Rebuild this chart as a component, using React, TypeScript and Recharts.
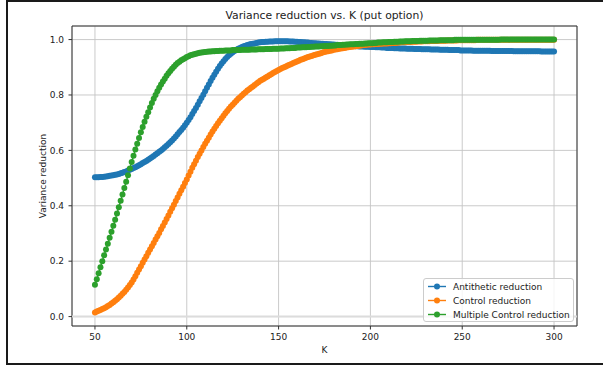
import React from 'react';
import {
  LineChart,
  Line,
  XAxis,
  YAxis,
  CartesianGrid,
  Legend,
  ReferenceArea,
  ReferenceLine,
} from 'recharts';

// strike grid, K = 50 .. 300 in steps of 1
const K_VALUES = Array.from({ length: 251 }, (_, i) => 50 + i);

const ANTITHETIC = [
  0.503, 0.503, 0.503, 0.504, 0.504, 0.505, 0.506, 0.507, 0.508, 0.509,
  0.510, 0.512, 0.513, 0.515, 0.517, 0.519, 0.522, 0.524, 0.527, 0.530,
  0.533, 0.536, 0.539, 0.543, 0.546, 0.550, 0.554, 0.558, 0.562, 0.566,
  0.571, 0.575, 0.580, 0.585, 0.590, 0.595, 0.600, 0.605, 0.611, 0.617,
  0.623, 0.629, 0.636, 0.643, 0.650, 0.658, 0.666, 0.674, 0.682, 0.691,
  0.700, 0.710, 0.720, 0.731, 0.742, 0.753, 0.765, 0.777, 0.789, 0.801,
  0.813, 0.826, 0.838, 0.850, 0.862, 0.873, 0.884, 0.895, 0.905, 0.914,
  0.922, 0.930, 0.937, 0.943, 0.949, 0.954, 0.959, 0.963, 0.967, 0.970,
  0.973, 0.976, 0.978, 0.980, 0.982, 0.984, 0.985, 0.986, 0.988, 0.989,
  0.990, 0.991, 0.991, 0.992, 0.992, 0.993, 0.993, 0.993, 0.994, 0.994,
  0.994, 0.994, 0.994, 0.994, 0.994, 0.994, 0.993, 0.993, 0.993, 0.992,
  0.992, 0.991, 0.991, 0.990, 0.990, 0.989, 0.989, 0.988, 0.988, 0.987,
  0.987, 0.986, 0.986, 0.985, 0.985, 0.984, 0.984, 0.983, 0.983, 0.982,
  0.982, 0.981, 0.981, 0.980, 0.980, 0.979, 0.979, 0.978, 0.978, 0.977,
  0.977, 0.977, 0.976, 0.976, 0.975, 0.975, 0.975, 0.974, 0.974, 0.974,
  0.973, 0.973, 0.973, 0.972, 0.972, 0.972, 0.971, 0.971, 0.971, 0.970,
  0.970, 0.970, 0.970, 0.969, 0.969, 0.969, 0.968, 0.968, 0.968, 0.968,
  0.967, 0.967, 0.967, 0.967, 0.966, 0.966, 0.966, 0.966, 0.965, 0.965,
  0.965, 0.965, 0.965, 0.964, 0.964, 0.964, 0.964, 0.964, 0.963, 0.963,
  0.963, 0.963, 0.963, 0.962, 0.962, 0.962, 0.962, 0.962, 0.962, 0.961,
  0.961, 0.961, 0.961, 0.961, 0.961, 0.961, 0.960, 0.960, 0.960, 0.960,
  0.960, 0.960, 0.960, 0.960, 0.960, 0.960, 0.959, 0.959, 0.959, 0.959,
  0.959, 0.959, 0.959, 0.959, 0.959, 0.959, 0.959, 0.959, 0.958, 0.958,
  0.958, 0.958, 0.958, 0.958, 0.958, 0.958, 0.958, 0.958, 0.958, 0.958,
  0.958, 0.958, 0.958, 0.957, 0.957, 0.957, 0.957, 0.957, 0.957, 0.957,
  0.957,
];

const CONTROL = [
  0.015, 0.018, 0.021, 0.024, 0.027, 0.030, 0.034, 0.038, 0.042, 0.047,
  0.052, 0.057, 0.063, 0.069, 0.075, 0.082, 0.089, 0.097, 0.105, 0.114,
  0.123, 0.134, 0.146, 0.158, 0.170, 0.182, 0.194, 0.206, 0.218, 0.230,
  0.242, 0.254, 0.266, 0.278, 0.290, 0.302, 0.315, 0.327, 0.340, 0.352,
  0.365, 0.378, 0.391, 0.404, 0.417, 0.430, 0.443, 0.456, 0.469, 0.482,
  0.495, 0.509, 0.523, 0.537, 0.550, 0.563, 0.576, 0.588, 0.600, 0.612,
  0.624, 0.635, 0.646, 0.657, 0.668, 0.678, 0.688, 0.698, 0.707, 0.716,
  0.725, 0.734, 0.742, 0.750, 0.758, 0.765, 0.772, 0.779, 0.786, 0.792,
  0.798, 0.804, 0.810, 0.816, 0.821, 0.826, 0.831, 0.836, 0.841, 0.846,
  0.851, 0.855, 0.859, 0.863, 0.867, 0.871, 0.875, 0.879, 0.883, 0.887,
  0.890, 0.894, 0.897, 0.900, 0.903, 0.906, 0.909, 0.912, 0.915, 0.918,
  0.921, 0.924, 0.927, 0.929, 0.932, 0.934, 0.937, 0.939, 0.941, 0.943,
  0.945, 0.947, 0.949, 0.951, 0.953, 0.955, 0.957, 0.958, 0.960, 0.961,
  0.963, 0.964, 0.965, 0.967, 0.968, 0.969, 0.970, 0.971, 0.972, 0.973,
  0.974, 0.975, 0.976, 0.977, 0.978, 0.979, 0.980, 0.980, 0.981, 0.982,
  0.982, 0.983, 0.983, 0.984, 0.984, 0.985, 0.985, 0.986, 0.986, 0.986,
  0.987, 0.987, 0.988, 0.988, 0.988, 0.989, 0.989, 0.990, 0.990, 0.990,
  0.991, 0.991, 0.991, 0.992, 0.992, 0.992, 0.993, 0.993, 0.993, 0.994,
  0.994, 0.994, 0.994, 0.995, 0.995, 0.995, 0.995, 0.996, 0.996, 0.996,
  0.996, 0.996, 0.997, 0.997, 0.997, 0.997, 0.997, 0.997, 0.998, 0.998,
  0.998, 0.998, 0.998, 0.998, 0.998, 0.998, 0.998, 0.998, 0.999, 0.999,
  0.999, 0.999, 0.999, 0.999, 0.999, 0.999, 0.999, 0.999, 0.999, 0.999,
  0.999, 0.999, 0.999, 0.999, 0.999, 0.999, 0.999, 0.999, 0.999, 0.999,
  0.999, 0.999, 0.999, 0.999, 0.999, 0.999, 0.999, 0.999, 0.999, 0.999,
  0.999, 0.999, 0.999, 0.999, 0.999, 0.999, 0.999, 0.999, 0.999, 0.999,
  0.999,
];

const MULTIPLE_CONTROL = [
  0.115, 0.135, 0.156, 0.178, 0.200, 0.221, 0.242, 0.263, 0.285, 0.306,
  0.328, 0.350, 0.372, 0.395, 0.418, 0.441, 0.464, 0.487, 0.510, 0.535,
  0.558, 0.581, 0.603, 0.624, 0.645, 0.665, 0.684, 0.703, 0.721, 0.738,
  0.755, 0.771, 0.786, 0.800, 0.813, 0.826, 0.838, 0.849, 0.859, 0.869,
  0.878, 0.887, 0.895, 0.902, 0.909, 0.915, 0.920, 0.925, 0.929, 0.933,
  0.937, 0.940, 0.943, 0.945, 0.947, 0.949, 0.951, 0.952, 0.953, 0.954,
  0.955, 0.956, 0.957, 0.957, 0.958, 0.958, 0.959, 0.959, 0.960, 0.960,
  0.960, 0.961, 0.961, 0.961, 0.961, 0.962, 0.962, 0.962, 0.962, 0.962,
  0.963, 0.963, 0.963, 0.963, 0.963, 0.964, 0.964, 0.964, 0.964, 0.965,
  0.965, 0.965, 0.965, 0.966, 0.966, 0.966, 0.966, 0.967, 0.967, 0.967,
  0.967, 0.968, 0.968, 0.968, 0.969, 0.969, 0.969, 0.970, 0.970, 0.970,
  0.971, 0.971, 0.971, 0.972, 0.972, 0.972, 0.973, 0.973, 0.974, 0.974,
  0.975, 0.975, 0.975, 0.976, 0.976, 0.977, 0.977, 0.977, 0.978, 0.978,
  0.979, 0.979, 0.980, 0.980, 0.980, 0.981, 0.981, 0.982, 0.982, 0.983,
  0.983, 0.983, 0.984, 0.984, 0.985, 0.985, 0.985, 0.986, 0.986, 0.987,
  0.987, 0.987, 0.988, 0.988, 0.989, 0.989, 0.989, 0.990, 0.990, 0.990,
  0.991, 0.991, 0.991, 0.992, 0.992, 0.992, 0.993, 0.993, 0.993, 0.994,
  0.994, 0.994, 0.994, 0.995, 0.995, 0.995, 0.995, 0.996, 0.996, 0.996,
  0.996, 0.996, 0.997, 0.997, 0.997, 0.997, 0.997, 0.997, 0.998, 0.998,
  0.998, 0.998, 0.998, 0.998, 0.998, 0.998, 0.999, 0.999, 0.999, 0.999,
  0.999, 0.999, 0.999, 0.999, 0.999, 0.999, 0.999, 0.999, 0.999, 0.999,
  0.999, 0.999, 0.999, 0.999, 0.999, 0.999, 0.999, 0.999, 0.999, 0.999,
  0.999, 1.000, 1.000, 1.000, 1.000, 1.000, 1.000, 1.000, 1.000, 1.000,
  1.000, 1.000, 1.000, 1.000, 1.000, 1.000, 1.000, 1.000, 1.000, 1.000,
  1.000, 1.000, 1.000, 1.000, 1.000, 1.000, 1.000, 1.000, 1.000, 1.000,
  1.000,
];

const X_TICKS = [50, 100, 150, 200, 250, 300];
const Y_TICKS = [0, 0.2, 0.4, 0.6, 0.8, 1.0];

const SERIES = [
  { key: 'antithetic', name: 'Antithetic reduction', color: '#1f77b4' },
  { key: 'control', name: 'Control reduction', color: '#ff7f0e' },
  { key: 'multiple', name: 'Multiple Control reduction', color: '#2ca02c' },
];

const X_DOMAIN: [number, number] = [37.5, 312.5];
const Y_DOMAIN: [number, number] = [-0.034, 1.049];

const FONT = "'DejaVu Sans', sans-serif";
const TICK_STYLE = { fontSize: 9, fill: '#222', fontFamily: FONT };

const data = K_VALUES.map((k, i) => ({
  k,
  antithetic: ANTITHETIC[i],
  control: CONTROL[i],
  multiple: MULTIPLE_CONTROL[i],
}));

function LegendBox() {
  return (
    <div
      style={{
        width: 151,
        height: 44,
        boxSizing: 'border-box',
        border: '1px solid #cccccc',
        borderRadius: 3,
        background: 'rgba(255,255,255,0.8)',
        fontFamily: FONT,
        fontSize: 9,
        color: '#222',
      }}
    >
      <svg width={149} height={42} style={{ display: 'block' }}>
        {SERIES.map((s, i) => {
          const cy = 7.5 + i * 14;
          return (
            <g key={s.key}>
              <line x1={4} x2={22} y1={cy} y2={cy} stroke={s.color} strokeWidth={1.4} />
              <circle cx={13} cy={cy} r={3} fill={s.color} />
              <text x={29} y={cy} dominantBaseline="central" fontSize={9} fill="#222" fontFamily={FONT}>
                {s.name}
              </text>
            </g>
          );
        })}
      </svg>
    </div>
  );
}

export default function App() {
  return (
    <div
      style={{
        position: 'absolute',
        left: 0,
        top: 0,
        width: 603,
        height: 366,
        background: '#fff',
        overflow: 'hidden',
        fontFamily: FONT,
      }}
    >
      {/* outer frame of the screenshot */}
      <div
        style={{
          position: 'absolute',
          left: 6,
          top: 0,
          width: 640,
          height: 365,
          boxSizing: 'border-box',
          border: '2px solid #1a1a1a',
        }}
      />
      <div
        style={{
          position: 'absolute',
          left: 72,
          top: 9,
          width: 505,
          textAlign: 'center',
          fontSize: 10.8,
          lineHeight: '13px',
          color: '#222',
        }}
      >
        Variance reduction vs. K (put option)
      </div>
      <div style={{ position: 'absolute', left: 0, top: 0 }}>
        <LineChart
          width={603}
          height={366}
          data={data}
          margin={{ top: 26, right: 26, bottom: 0, left: 22 }}
        >
          <CartesianGrid stroke="#c4c4c4" strokeWidth={0.9} />
          <ReferenceLine y={0} stroke="#dcdcdc" strokeWidth={2} />
          <XAxis
            dataKey="k"
            type="number"
            domain={X_DOMAIN}
            ticks={X_TICKS}
            height={40}
            axisLine={false}
            tickSize={3.5}
            tickMargin={4.5}
            tickLine={{ stroke: '#333' }}
            tick={TICK_STYLE}
            label={({ viewBox }: any) => (
              <text
                x={viewBox.x + viewBox.width / 2}
                y={350}
                textAnchor="middle"
                dominantBaseline="central"
                fontSize={9}
                fill="#222"
                fontFamily={FONT}
              >
                K
              </text>
            )}
          />
          <YAxis
            type="number"
            domain={Y_DOMAIN}
            ticks={Y_TICKS}
            width={50}
            axisLine={false}
            tickSize={3.5}
            tickMargin={4.5}
            tickLine={{ stroke: '#333' }}
            tick={TICK_STYLE}
            tickFormatter={(v: number) => v.toFixed(1)}
            label={({ viewBox }: any) => (
              <text
                x={43}
                y={viewBox.y + viewBox.height / 2}
                transform={`rotate(-90, 43, ${viewBox.y + viewBox.height / 2})`}
                textAnchor="middle"
                dominantBaseline="central"
                fontSize={9}
                fill="#222"
                fontFamily={FONT}
              >
                Variance reduction
              </text>
            )}
          />
          <ReferenceArea
            x1={X_DOMAIN[0]}
            x2={X_DOMAIN[1]}
            y1={Y_DOMAIN[0]}
            y2={Y_DOMAIN[1]}
            fill="none"
            fillOpacity={0}
            stroke="#333"
            strokeWidth={1}
          />
          {SERIES.map((s) => (
            <Line
              key={s.key}
              type="linear"
              dataKey={s.key}
              name={s.name}
              stroke={s.color}
              strokeWidth={1.4}
              dot={{ r: 3, fill: s.color, stroke: s.color, strokeWidth: 0 }}
              activeDot={false}
              isAnimationActive={false}
            />
          ))}
          <Legend
            layout="vertical"
            align="center"
            verticalAlign="middle"
            content={() => <LegendBox />}
            wrapperStyle={{ left: 423, top: 278, width: 151, height: 44 }}
          />
        </LineChart>
      </div>
    </div>
  );
}
